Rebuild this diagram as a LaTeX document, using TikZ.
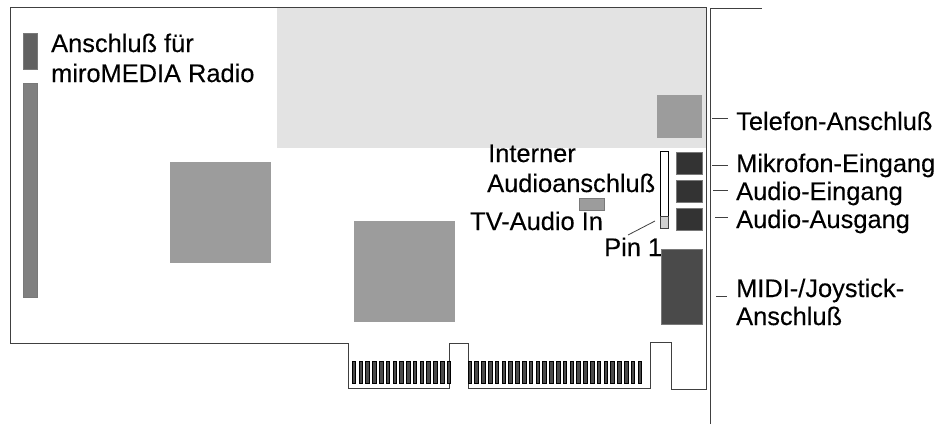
\documentclass[tikz,border=0pt]{standalone}
\usepackage{fontspec}
\setmainfont[FakeBold=0.25]{Liberation Sans}
\definecolor{lightarea}{HTML}{E3E3E3}
\definecolor{chip}{HTML}{9C9C9C}
\definecolor{jack}{HTML}{333333}
\definecolor{midi}{HTML}{4A4A4A}
\definecolor{outline}{HTML}{404040}
\tikzset{
  lbl/.style={anchor=base west,inner sep=0pt,font=\fontsize{25.4}{28}\selectfont,text=black},
  part/.style={draw=outline!70,line width=.7pt},
  board/.style={draw=outline,line width=1pt},
  leader/.style={draw=outline,line width=.8pt},
  pin/.style={fill=midi,draw=black,line width=.9pt}
}
\begin{document}
\begin{tikzpicture}[x=1pt,y=-1pt]
\useasboundingbox (0,0) rectangle (941,424);
% shaded area
\fill[lightarea] (277,7) rectangle (706,148);
% board outline
\draw[board,line join=miter] (10,7) -- (706,7) -- (706,389) -- (671,389) -- (671,342) -- (650,342) -- (650,388)
  -- (468,388) -- (468,343.5) -- (449,343.5) -- (449,388) -- (348,388) -- (348,343.5) -- (10,343.5) -- cycle;
% front bracket
\draw[board] (710.7,424) -- (710.7,8) -- (762,8);
% parts
\draw[part,fill=black!62] (23,33) rectangle (37,69);
\draw[part,fill=black!50] (23,83) rectangle (37,297);
\fill[chip] (170,162) rectangle (271,263);
\fill[chip] (354,221) rectangle (455,322);
\fill[chip] (657,95) rectangle (702,138);
\draw[draw=black,fill=white,line width=.8pt] (660,151) rectangle (668.7,228);
\draw[draw=outline,fill=black!18,line width=.8pt] (660,216) rectangle (668.7,228);
\draw[part,fill=chip] (579,198.5) rectangle (604,210);
\draw[part,fill=jack] (676,152) rectangle (702,174.5);
\draw[part,fill=jack] (676,180.5) rectangle (702,202.5);
\draw[part,fill=jack] (676,208.5) rectangle (702,230);
\draw[part,fill=midi] (661,249) rectangle (702,324);
% contact pins
\foreach \i in {0,...,14} {\draw[pin] ({352.3+6.78*\i},361) rectangle +(3.6,22.5);}
\foreach \i in {0,...,25} {\draw[pin] ({468+6.8*\i},361) rectangle +(3.6,22.5);}
% labels
\node[lbl] (radioa) at (51,52) {Anschluß für};
\node[lbl] (radiob) at (51,82) {miroMEDIA Radio};
\node[lbl] (intern) at (488,162) {Interner};
\node[lbl] (audio) at (487,192) {Audioanschluß};
\node[lbl] (tv) at (470,230) {TV-Audio In};
\node[lbl] (pinl) at (604,256) {Pin 1};
\node[lbl] (tel) at (736,130) {Telefon-Anschluß};
\node[lbl] (mik) at (736,172) {Mikrofon-Eingang};
\node[lbl] (ein) at (736,200) {Audio-Eingang};
\node[lbl] (aus) at (736,228) {Audio-Ausgang};
\node[lbl] (mid) at (736,297) {MIDI-/Joystick-};
\node[lbl] (ans) at (736,325) {Anschluß};
% leaders
\coordinate (c1) at (712,118); \coordinate (d1) at (728,118);
\coordinate (c2) at (712,165); \coordinate (d2) at (728,165);
\coordinate (c3) at (713,190); \coordinate (d3) at (728,190);
\coordinate (c4) at (715,217.5); \coordinate (d4) at (728,217.5);
\coordinate (c5) at (716,296); \coordinate (d5) at (727,296);
\coordinate (c6) at (655,221); \coordinate (d6) at (628,235);
\foreach \n in {1,...,6} {\draw[leader] (c\n) -- (d\n);}
\end{tikzpicture}
\end{document}
